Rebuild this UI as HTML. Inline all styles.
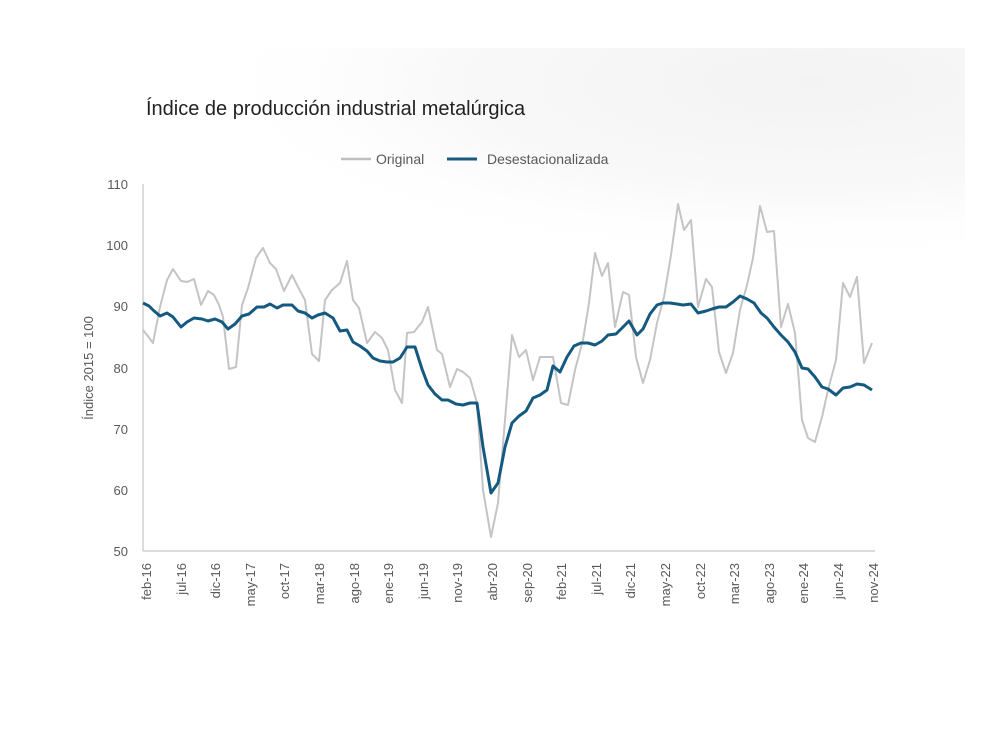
<!DOCTYPE html>
<html><head><meta charset="utf-8"><style>
body{margin:0;width:992px;height:744px;background:#fff;overflow:hidden}
svg{display:block}
text{font-family:"Liberation Sans","DejaVu Sans",sans-serif}
</style></head><body>
<svg width="992" height="744" viewBox="0 0 992 744">
<defs>
<radialGradient id="rg" cx="0.8" cy="0.15" r="0.8">
<stop offset="0" stop-color="#f3f3f3"/>
<stop offset="0.6" stop-color="#f9f9f9"/>
<stop offset="1" stop-color="#ffffff" stop-opacity="0"/>
</radialGradient>
<linearGradient id="fade" x1="0" y1="0" x2="0" y2="1">
<stop offset="0" stop-color="#fff" stop-opacity="0"/>
<stop offset="1" stop-color="#fff" stop-opacity="1"/>
</linearGradient>
</defs>
<rect x="190" y="48" width="775" height="230" fill="url(#rg)"/>
<rect x="190" y="200" width="775" height="80" fill="url(#fade)"/>
<text x="146" y="115" font-size="20" fill="#222">Índice de producción industrial metalúrgica</text>
<line x1="341" y1="159" x2="371" y2="159" stroke="#bfbfbf" stroke-width="2.5"/>
<text x="376" y="164" font-size="14" fill="#595959">Original</text>
<line x1="447" y1="159" x2="477" y2="159" stroke="#1a5a80" stroke-width="3"/>
<text x="487" y="164" font-size="14" fill="#595959">Desestacionalizada</text>
<line x1="143" y1="184" x2="143" y2="551" stroke="#d0d0d0" stroke-width="1.5"/>
<line x1="143" y1="551" x2="875" y2="551" stroke="#d0d0d0" stroke-width="1.5"/>
<g font-size="13" fill="#595959" text-anchor="end">
<text x="128" y="189">110</text><text x="128" y="250">100</text><text x="128" y="311">90</text><text x="128" y="373">80</text><text x="128" y="434">70</text><text x="128" y="495">60</text><text x="128" y="556">50</text>
</g>
<text transform="translate(93,368) rotate(-90)" font-size="13" fill="#595959" text-anchor="middle">Índice 2015 = 100</text>
<g font-size="13" fill="#595959" text-anchor="end">
<text transform="translate(151,563) rotate(-90)">feb-16</text>
<text transform="translate(186,563) rotate(-90)">jul-16</text>
<text transform="translate(220,563) rotate(-90)">dic-16</text>
<text transform="translate(255,563) rotate(-90)">may-17</text>
<text transform="translate(289,563) rotate(-90)">oct-17</text>
<text transform="translate(324,563) rotate(-90)">mar-18</text>
<text transform="translate(359,563) rotate(-90)">ago-18</text>
<text transform="translate(393,563) rotate(-90)">ene-19</text>
<text transform="translate(428,563) rotate(-90)">jun-19</text>
<text transform="translate(462,563) rotate(-90)">nov-19</text>
<text transform="translate(497,563) rotate(-90)">abr-20</text>
<text transform="translate(532,563) rotate(-90)">sep-20</text>
<text transform="translate(566,563) rotate(-90)">feb-21</text>
<text transform="translate(601,563) rotate(-90)">jul-21</text>
<text transform="translate(635,563) rotate(-90)">dic-21</text>
<text transform="translate(670,563) rotate(-90)">may-22</text>
<text transform="translate(705,563) rotate(-90)">oct-22</text>
<text transform="translate(739,563) rotate(-90)">mar-23</text>
<text transform="translate(774,563) rotate(-90)">ago-23</text>
<text transform="translate(808,563) rotate(-90)">ene-24</text>
<text transform="translate(843,563) rotate(-90)">jun-24</text>
<text transform="translate(878,563) rotate(-90)">nov-24</text>
</g>
<polyline fill="none" stroke="#c4c4c4" stroke-width="2" stroke-linejoin="round" points="143,330 147,335 153,343 160,307 167,280 173,269 181,281 187,282 194,279 201,305 208,291 214,295 219,305 223,317 229,369 236,367 242,305 248,288 256,258 263,248 270,263 276,269 284,291 292,275 298,287 305,300 312,354 319,361 325,300 332,290 340,283 347,261 353,300 359,308 367,343 375,332 382,338 388,350 395,390 402,403 407,333 414,332 422,322 428,307 437,350 442,354 450,387 457,369 463,372 470,378 477,403 483,490 491,537 498,503 505,420 512,335 519,357 526,350 533,380 540,357 553,357 561,403 568,405 575,370 583,340 589,303 595,253 602,276 608,263 615,327 623,292 629,295 636,357 643,383 650,360 657,323 664,297 671,255 678,204 684,230 691,220 698,307 706,279 712,287 719,352 726,373 733,353 740,310 747,285 753,258 760,206 767,232 774,231 781,327 788,304 795,333 802,420 808,438 815,442 822,417 828,390 836,360 843,283 850,297 857,277 864,363 872,343"/>
<polyline fill="none" stroke="#14597f" stroke-width="3" stroke-linejoin="round" points="143,303 149,306 153,310 160,316 167,313 173,317 181,327 187,322 194,318 202,319 208,321 215,319 222,322 228,329 235,324 242,316 249,314 257,307 264,307 270,304 277,308 283,305 292,305 298,311 305,313 312,318 318,315 325,313 333,318 340,331 347,330 353,342 360,346 367,351 373,358 380,361 387,362 393,362 400,358 407,347 415,347 422,369 428,385 435,394 442,400 448,400 456,404 463,405 470,403 477,403 483,447 491,493 498,483 505,447 512,423 519,416 526,411 533,398 540,395 547,390 553,366 560,372 567,357 574,346 581,343 588,343 595,345 602,341 608,335 616,334 623,327 629,321 637,335 643,329 650,314 657,305 663,303 670,303 677,304 683,305 691,304 698,313 706,311 712,309 719,307 726,307 733,302 740,296 747,299 754,303 761,313 767,318 774,327 781,335 788,342 795,352 802,368 808,369 815,377 822,387 828,389 836,395 843,388 850,387 857,384 864,385 872,390"/>
</svg>
</body></html>
